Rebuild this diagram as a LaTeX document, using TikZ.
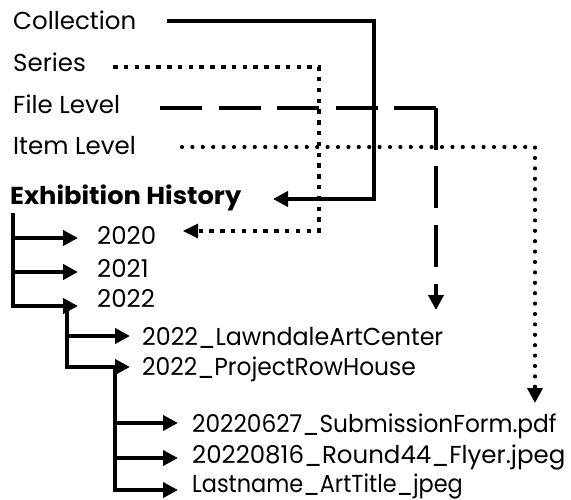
\documentclass[tikz,border=0pt]{standalone}
\usepackage{fontspec}
\setmainfont{Poppins}
\usetikzlibrary{arrows.meta}
\begin{document}
\begin{tikzpicture}[x=1pt,y=-1pt,
  lbl/.style={anchor=base west, inner sep=0pt, font=\fontsize{24.5}{28}\selectfont},
  lbls/.style={lbl, font=\fontsize{24.5}{28}\selectfont\addfontfeature{FakeStretch=#1}},
  conn/.style={line width=4.5pt},
  solidl/.style={conn},
  sqdot/.style={line width=4.5pt, dash pattern=on 4.5pt off 6.3pt},
  rddot/.style={line width=4.2pt, line cap=round, dash pattern=on 0pt off 10.4pt},
  longdash/.style={conn, dash pattern=on 42pt off 16.5pt},
  tip/.style={-{Triangle[length=15pt,width=15pt]}}
]
\useasboundingbox (0,0) rectangle (571,500);
% labels
\node[lbl] (coll) at (13,30) {Collection};
\node[lbl] (ser) at (13,72) {Series};
\node[lbl] (file) at (13,114) {File Level};
\node[lbl] (item) at (13,155) {Item Level};
\node[lbl, font=\fontsize{24.5}{28}\selectfont\bfseries\addfontfeature{FakeStretch=1.05}] (exh) at (10,205) {Exhibition History};
\node[lbl] (y20) at (97,244) {2020};
\node[lbl] (y21) at (97,277) {2021};
\node[lbl] (y22) at (97,307) {2022};
\node[lbls=0.97] (law) at (142,345) {2022\_LawndaleArtCenter};
\node[lbls=0.955] (prh) at (142,375) {2022\_ProjectRowHouse};
\node[lbls=0.95] (sub) at (192,432) {20220627\_SubmissionForm.pdf};
\node[lbl] (fly) at (192,463) {20220816\_Round44\_Flyer.jpeg};
\node[lbls=0.915] (lst) at (192,492) {Lastname\_ArtTitle\_jpeg};
% legend connector points
\coordinate (cA) at (167,21);
\coordinate (cB) at (374,21);
\coordinate (cC) at (374,199);
\coordinate (cD) at (273,199);
\coordinate (sA) at (113,67);
\coordinate (sB) at (319,67);
\coordinate (sC) at (319,231);
\coordinate (sD) at (183,231);
\coordinate (fA) at (160,108);
\coordinate (fB) at (436,108);
\coordinate (fC) at (436,310);
\coordinate (iA) at (182,147);
\coordinate (iB) at (535,147);
\coordinate (iC) at (535,403);
% tree points
\coordinate (t0) at (13,213);
\coordinate (t1) at (13,238);
\coordinate (t2) at (13,272);
\coordinate (t3) at (13,306);
\coordinate (a1) at (78,238);
\coordinate (a2) at (78,272);
\coordinate (a3) at (78,306);
\coordinate (u0) at (67,306);
\coordinate (u1) at (67,336);
\coordinate (u2) at (67,367);
\coordinate (b1) at (130,336);
\coordinate (b2) at (130,367);
\coordinate (v0) at (115,367);
\coordinate (v1) at (115,423);
\coordinate (v2) at (115,458);
\coordinate (v3) at (115,490);
\coordinate (d1) at (178,423);
\coordinate (d2) at (178,458);
\coordinate (d3) at (178,490);
% legend connectors
\draw[solidl, tip] (cA) -- (cB) -- (cC) -- (cD);
\draw[sqdot] (sA) -- (sB) -- (sC) -- (sD);
\fill (sD) -- ++(15,-7.5) -- ++(0,15) -- cycle;
\draw[longdash] (fA) -- (fB);
\draw[longdash, tip] (fB) -- (fC);
\draw[rddot, tip] (iA) -- (iB) -- (iC);
% tree
\draw[conn, tip] (t0) -- (t3) -- (a3);
\draw[conn, tip] (t1) -- (a1);
\draw[conn, tip] (t2) -- (a2);
\draw[conn, tip] (u0) -- (u2) -- (b2);
\draw[conn, tip] (u1) -- (b1);
\draw[conn, tip] (v0) -- (v3) -- (d3);
\draw[conn, tip] (v1) -- (d1);
\draw[conn, tip] (v2) -- (d2);
\end{tikzpicture}
\end{document}
